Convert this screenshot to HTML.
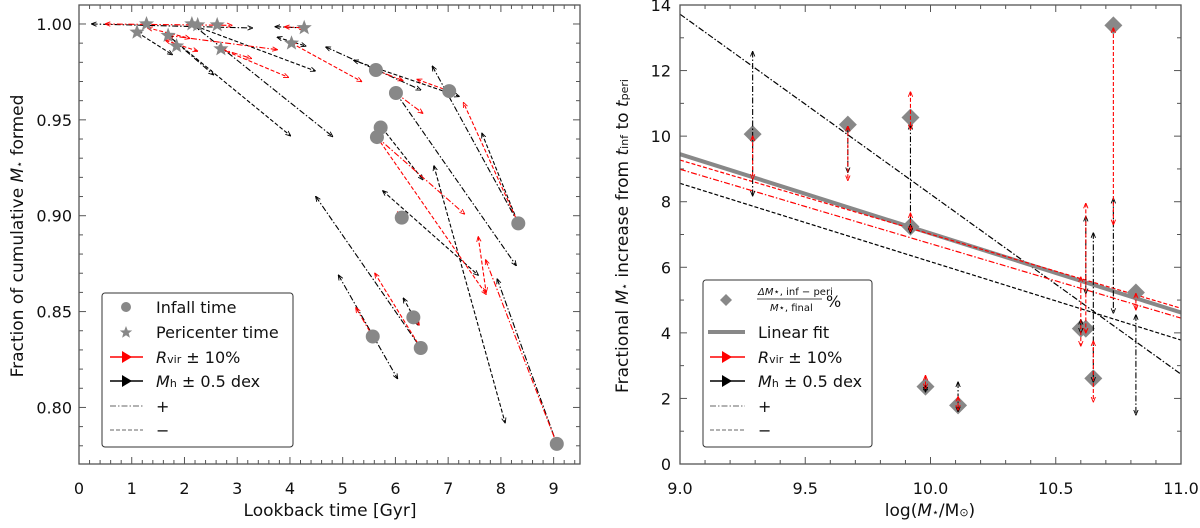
<!DOCTYPE html>
<html><head><meta charset="utf-8"><style>
body{margin:0;background:#fff;}
svg text{font-family:"DejaVu Sans","Liberation Sans",sans-serif;fill:#111;}
</style></head><body>
<svg id="s" width="1200" height="523" viewBox="0 0 1200 523" xmlns="http://www.w3.org/2000/svg">
<defs>
<marker id="ab" viewBox="0 0 10 10" refX="9" refY="5" markerWidth="5" markerHeight="5" orient="auto-start-reverse"><path d="M0,1 L10,5 L0,9" fill="none" stroke="#000" stroke-width="1.6"/></marker>
<marker id="ar" viewBox="0 0 10 10" refX="9" refY="5" markerWidth="5" markerHeight="5" orient="auto-start-reverse"><path d="M0,1 L10,5 L0,9" fill="none" stroke="#f00" stroke-width="1.6"/></marker>
</defs>
<g id="L"></g>
<g id="R"></g>
</svg>
<script>
// ---- left panel data ----
const infallX=[5.63,6.01,7.02,5.72,5.65,6.12,8.33,5.57,6.34,6.48,9.06];
const infallY=[0.976,0.964,0.965,0.946,0.941,0.899,0.896,0.837,0.847,0.831,0.781];
const periX=[1.10,1.28,1.69,1.85,2.14,2.25,2.62,2.69,4.03,4.27];
const periY=[0.9957,1.000,0.994,0.9885,1.000,0.9995,0.9995,0.987,0.990,0.998];
const blkX1=[0.24,1.10,1.69,1.69,2.14,2.20,3.72,3.76,4.68,5.21,6.70,7.64,6.01,5.76,4.49,6.73,4.92,6.15,7.93,5.75];
const blkY1=[1.000,0.9957,0.994,0.994,1.000,0.999,0.9986,0.9931,0.988,0.981,0.978,0.943,0.964,0.913,0.910,0.926,0.869,0.857,0.867,0.9457];
const blkX2=[3.29,1.77,2.55,4.01,4.81,4.48,4.30,4.30,6.48,7.21,8.33,8.33,8.29,7.57,6.48,8.08,6.04,6.43,9.06,6.52];
const blkY2=[0.9979,0.984,0.9735,0.9417,0.9413,0.9755,0.9979,0.9885,0.9656,0.9622,0.896,0.896,0.874,0.869,0.831,0.792,0.815,0.843,0.781,0.9188];
const redX1=[0.5,1.3,1.69,1.64,2.69,2.69,3.90,4.03,5.63,7.02,6.01,8.33,5.65,5.65,7.71,7.57,5.25,5.61,6.32,6.04];
const redY1=[1.000,0.998,0.994,0.9915,0.987,0.987,0.9985,0.990,0.976,0.965,0.964,0.896,0.941,0.941,0.877,0.889,0.852,0.870,0.849,0.902];
const redX2=[2.9,2.10,3.76,2.25,3.27,3.97,4.27,5.36,6.14,6.41,6.52,7.29,7.31,7.72,9.06,7.72,5.57,6.48,6.45,6.12];
const redY2=[0.9993,0.9925,0.9866,0.9858,0.982,0.9722,0.998,0.970,0.9705,0.9711,0.9534,0.959,0.9009,0.859,0.781,0.860,0.837,0.831,0.843,0.899];
const leftXTicks=[0,1,2,3,4,5,6,7,8,9];
const leftYTicks=[0.80,0.85,0.90,0.95,1.00];
// ---- right panel data ----
const massX=[9.29,9.67,9.92,9.92,9.98,10.11,10.60,10.62,10.65,10.73,10.82];
const fracY=[10.06,10.35,10.57,7.24,2.36,1.79,4.13,4.13,2.61,13.38,5.23];
const redHi=[10.0,10.3,11.35,7.65,2.7,2.05,5.7,7.95,3.75,13.3,5.2];
const redLo=[8.69,8.65,10.2,7.1,2.3,1.65,3.6,4.0,1.9,7.3,4.7];
const blkHi=[12.58,10.3,10.35,7.3,2.4,2.5,4.4,7.55,7.05,8.1,4.55];
const blkLo=[8.18,8.9,7.1,7.05,2.2,1.6,4.0,5.2,2.5,4.6,1.5];
const fitEnds=[9.45,4.62];
const redPlusEnds=[8.99,4.45];
const redMinusEnds=[9.27,4.75];
const blkPlusEnds=[13.72,2.74];
const blkMinusEnds=[8.56,3.78];
const rightXTicks=[9.0,9.5,10.0,10.5,11.0];
const rightYTicks=[0,2,4,6,8,10,12,14];

const NS="http://www.w3.org/2000/svg";
function mk(p,t,a){const e=document.createElementNS(NS,t);for(const k in a)e.setAttribute(k,a[k]);p.appendChild(e);return e;}
const L=document.getElementById('L'),R=document.getElementById('R');
const lx0=79,lx1=580,ly0=5,ly1=464;
const lxs=v=>lx0+(v-0)/9.5*(lx1-lx0);
const lys=v=>ly1-(v-0.7705)/(1.0099-0.7705)*(ly1-ly0);
const rx0=680,rx1=1181,ry0=5,ry1=464;
const rxs=v=>rx0+(v-9)/2*(rx1-rx0);
const rys=v=>ry1-v/14*(ry1-ry0);

function ticks(g,x0,x1,y0,y1,xs,ys,xmaj,xmin,ymaj,ymin,xlo,xhi,ylo,yhi){
  for(let v=xlo;v<=xhi+1e-9;v+=xmin){const X=xs(v);const maj=Math.abs(v/xmaj-Math.round(v/xmaj))<1e-6;const l=maj?7:4;
    let t=mk(g,'line',{x1:X,x2:X,y1:y1,y2:y1-l,stroke:'#555','stroke-width':1});
    t=mk(g,'line',{x1:X,x2:X,y1:y0,y2:y0+l,stroke:'#555','stroke-width':1});}
  for(let v=ylo;v<=yhi+1e-9;v+=ymin){const Y=ys(v);const maj=Math.abs(v/ymaj-Math.round(v/ymaj))<1e-6;const l=maj?7:4;
    let t=mk(g,'line',{x1:x0,x2:x0+l,y1:Y,y2:Y,stroke:'#555','stroke-width':1});
    t=mk(g,'line',{x1:x1,x2:x1-l,y1:Y,y2:Y,stroke:'#555','stroke-width':1});}
}
ticks(L,lx0,lx1,ly0,ly1,lxs,lys,1,0.2,0.05,0.01,0,9.4,0.78,1.005);
ticks(R,rx0,rx1,ry0,ry1,rxs,rys,0.5,0.1,2,1,9,11,0,14);
leftXTicks.forEach(v=>{const t=mk(L,'text',{x:lxs(v),y:494,'font-size':16,'text-anchor':'middle'});t.textContent=v;});
leftYTicks.forEach(v=>{const t=mk(L,'text',{x:72,y:lys(v)+6,'font-size':16,'text-anchor':'end'});t.textContent=v.toFixed(2);});
rightXTicks.forEach(v=>{const t=mk(R,'text',{x:rxs(v),y:494,'font-size':16,'text-anchor':'middle'});t.textContent=v.toFixed(1);});
rightYTicks.forEach(v=>{const t=mk(R,'text',{x:671,y:rys(v)+6,'font-size':16,'text-anchor':'end'});t.textContent=v;});

function arrows(X1,Y1,X2,Y2,col,mid){for(let i=0;i<X1.length;i++){
  const e=mk(L,'line',{x1:lxs(X1[i]),y1:lys(Y1[i]),x2:lxs(X2[i]),y2:lys(Y2[i]),stroke:col,'stroke-width':1.1,'stroke-dasharray':i%2?'4,2':'6,2,1.5,2','marker-start':'url(#'+mid+')','marker-end':'url(#'+mid+')'});
  
  }}
arrows(blkX1,blkY1,blkX2,blkY2,'#000','ab');
arrows(redX1,redY1,redX2,redY2,'#f00','ar');
function star(cx,cy,r){let p='';for(let i=0;i<10;i++){const a=-Math.PI/2+i*Math.PI/5;const rr=i%2?r*0.42:r;p+=(i?'L':'M')+(cx+rr*Math.cos(a)).toFixed(1)+','+(cy+rr*Math.sin(a)).toFixed(1);}return p+'Z';}
infallX.forEach((x,i)=>{const c=mk(L,'circle',{cx:lxs(x),cy:lys(infallY[i]),r:7,fill:'#888'});});
periX.forEach((x,i)=>{const c=mk(L,'path',{d:star(lxs(x),lys(periY[i]),8),fill:'#888'});});

function fl(e,col,w,d,name){const l=mk(R,'line',{x1:rxs(9),y1:rys(e[0]),x2:rxs(11),y2:rys(e[1]),stroke:col,'stroke-width':w,'stroke-dasharray':d});}
fl(blkPlusEnds,'#000',1.2,'6,2,1.5,2','mh-plus-fit');
fl(blkMinusEnds,'#000',1.2,'4,2','mh-minus-fit');
fl(redPlusEnds,'#f00',1.2,'6,2,1.5,2','rvir-plus-fit');
fl(fitEnds,'#888',4,'none','linear-fit');
fl(redMinusEnds,'#f00',1.2,'4,2','rvir-minus-fit');
massX.forEach((x,i)=>{const X=rxs(x),Y=rys(fracY[i]);const d=mk(R,'path',{d:`M${X},${Y-9}L${X+9},${Y}L${X},${Y+9}L${X-9},${Y}Z`,fill:'#888'});});
massX.forEach((x,i)=>{const X=rxs(x);
  let e=mk(R,'line',{x1:X,x2:X,y1:rys(blkHi[i]),y2:rys(blkLo[i]),stroke:'#000','stroke-width':1.1,'stroke-dasharray':'6,2,1.5,2','marker-start':'url(#ab)','marker-end':'url(#ab)'});
  e=mk(R,'line',{x1:X,x2:X,y1:rys(redHi[i]),y2:rys(redLo[i]),stroke:'#f00','stroke-width':1.1,'stroke-dasharray':'4,2','marker-start':'url(#ar)','marker-end':'url(#ar)'});});
</script>
<svg style="position:absolute;left:0;top:0" width="1200" height="523">
<rect x="79" y="5" width="501" height="459" fill="none" stroke="#555" stroke-width="1.3"/>
<rect x="680" y="5" width="501" height="459" fill="none" stroke="#555" stroke-width="1.3"/>
<g font-family="DejaVu Sans, Liberation Sans, sans-serif" fill="#111">
<text x="330" y="516" font-size="17" text-anchor="middle">Lookback time [Gyr]</text>
<text transform="translate(23,236) rotate(-90)" font-size="17" text-anchor="middle">Fraction of cumulative <tspan font-style="italic">M</tspan><tspan font-size="11">⋆</tspan> formed</text>
<text x="930" y="516" font-size="17" text-anchor="middle">log(<tspan font-style="italic">M</tspan><tspan font-size="11">⋆</tspan>/M<tspan font-size="11">⊙</tspan>)</text>
<text transform="translate(628,236) rotate(-90)" font-size="17" text-anchor="middle">Fractional <tspan font-style="italic">M</tspan><tspan font-size="11">⋆</tspan> increase from <tspan font-style="italic">t</tspan><tspan font-size="11">inf</tspan> to <tspan font-style="italic">t</tspan><tspan font-size="11">peri</tspan></text>
</g>
<g font-family="DejaVu Sans, Liberation Sans, sans-serif" font-size="16" fill="#111">
<rect x="102" y="293" width="191" height="154" rx="3" fill="#fff" stroke="#333"/>
<circle cx="126" cy="307" r="5" fill="#888"/><text x="156" y="313">Infall time</text>
<path d="M126,326 L127.7,330.4 L132.2,330.5 L128.7,333.3 L129.9,337.7 L126,335.2 L122.1,337.7 L123.3,333.3 L119.8,330.5 L124.3,330.4Z" fill="#888"/><text x="156" y="338">Pericenter time</text>
<line x1="110" x2="143" y1="357" y2="357" stroke="#f00" stroke-width="1.5"/><path d="M122,351 L132,357 L122,363Z" fill="#f00"/><text x="156" y="363"><tspan font-style="italic">R</tspan><tspan font-size="11">vir</tspan> ± 10%</text>
<line x1="110" x2="143" y1="381" y2="381" stroke="#000" stroke-width="1.5"/><path d="M122,375 L132,381 L122,387Z" fill="#000"/><text x="156" y="387"><tspan font-style="italic">M</tspan><tspan font-size="11">h</tspan> ± 0.5 dex</text>
<line x1="110" x2="143" y1="406" y2="406" stroke="#999" stroke-width="1.5" stroke-dasharray="6,2,1.5,2"/><text x="156" y="412">+</text>
<line x1="110" x2="143" y1="430" y2="430" stroke="#999" stroke-width="1.5" stroke-dasharray="4,2"/><text x="156" y="436">−</text>
</g>
<g font-family="DejaVu Sans, Liberation Sans, sans-serif" font-size="16" fill="#111">
<rect x="703" y="280" width="169" height="167" rx="3" fill="#fff" stroke="#333"/>
<path d="M726,294 L732,300 L726,306 L720,300Z" fill="#888"/>
<text x="758" y="295" font-size="10"><tspan font-style="italic">ΔM</tspan>⋆, inf − peri</text>
<line x1="757" x2="822" y1="299" y2="299" stroke="#111" stroke-width="0.8"/>
<text x="770" y="311" font-size="10"><tspan font-style="italic">M</tspan>⋆, final</text>
<text x="826" y="307">%</text>
<line x1="708" x2="745" y1="332" y2="332" stroke="#888" stroke-width="4"/><text x="758" y="338">Linear fit</text>
<line x1="710" x2="745" y1="357" y2="357" stroke="#f00" stroke-width="1.5"/><path d="M722,351 L732,357 L722,363Z" fill="#f00"/><text x="758" y="363"><tspan font-style="italic">R</tspan><tspan font-size="11">vir</tspan> ± 10%</text>
<line x1="710" x2="745" y1="381" y2="381" stroke="#000" stroke-width="1.5"/><path d="M722,375 L732,381 L722,387Z" fill="#000"/><text x="758" y="387"><tspan font-style="italic">M</tspan><tspan font-size="11">h</tspan> ± 0.5 dex</text>
<line x1="710" x2="745" y1="406" y2="406" stroke="#999" stroke-width="1.5" stroke-dasharray="6,2,1.5,2"/><text x="758" y="412">+</text>
<line x1="710" x2="745" y1="430" y2="430" stroke="#999" stroke-width="1.5" stroke-dasharray="4,2"/><text x="758" y="436">−</text>
</g>
</svg>
</body></html>
